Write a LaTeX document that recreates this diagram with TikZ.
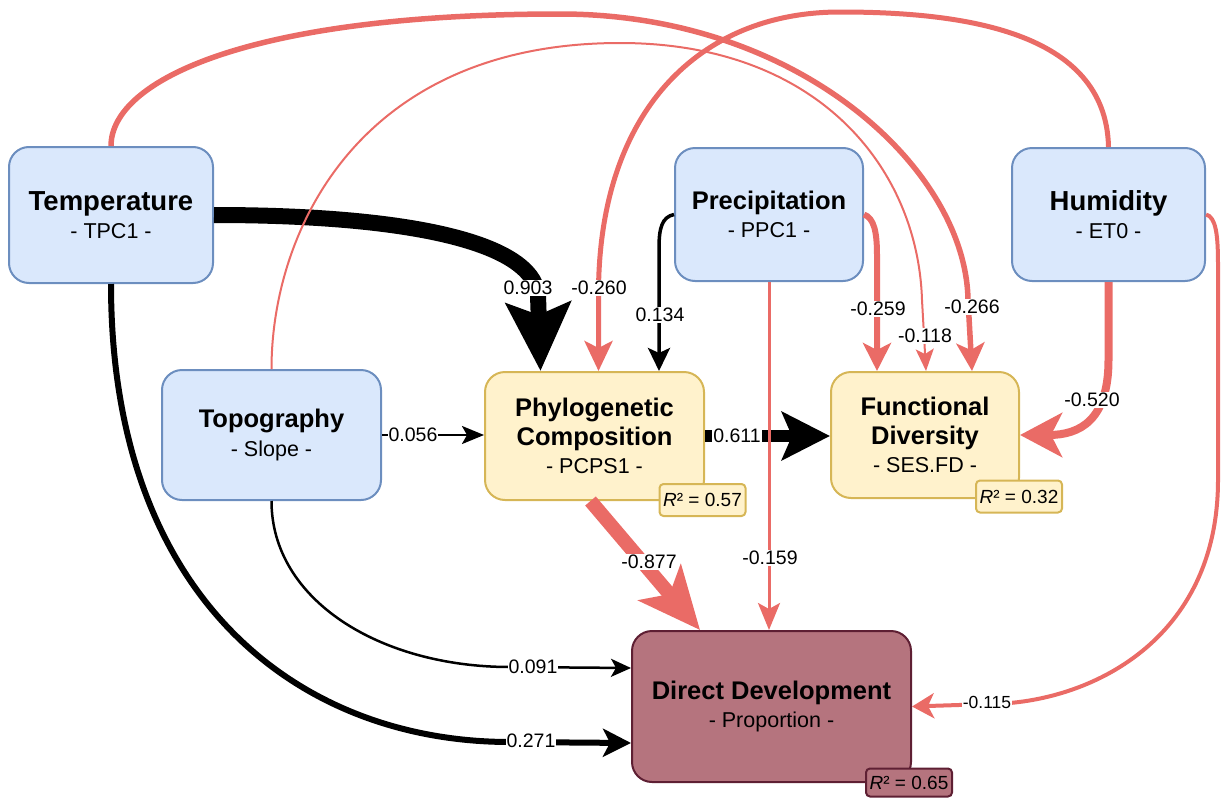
\documentclass[tikz,border=0pt]{standalone}
\usepackage{fontspec}
\setmainfont{Liberation Sans}
\usetikzlibrary{arrows.meta,calc}

\definecolor{bfill}{HTML}{DAE8FC}
\definecolor{bdraw}{HTML}{6C8EBF}
\definecolor{yfill}{HTML}{FFF2CC}
\definecolor{ydraw}{HTML}{D6B656}
\definecolor{dfill}{HTML}{B5747E}
\definecolor{ddraw}{HTML}{5E1F33}
\definecolor{negc}{HTML}{EA6B66}

\newcommand\ttl[1]{{\fontsize{25.5}{28.5}\selectfont\bfseries #1}}
\newcommand\bigttl[1]{{\fontsize{27.5}{28.5}\selectfont\bfseries #1}}

\tikzset{
  box/.style={rounded corners=20pt, line width=2pt, align=center, inner sep=0pt,
    font=\fontsize{21.5}{28.5}\selectfont},
  bluebox/.style={box, fill=bfill, draw=bdraw},
  yelbox/.style={box, fill=yfill, draw=ydraw},
  ddbox/.style={box, fill=dfill, draw=ddraw},
  r2box/.style={rounded corners=4pt, line width=2pt, inner sep=0pt,
    font=\fontsize{19}{19}\selectfont, minimum width=86pt},
  lbl/.style={fill=white, inner sep=1pt, text=black, font=\fontsize{19.5}{19.5}\selectfont},
  poslink/.style={draw=black},
  neglink/.style={draw=negc},
}

\begin{document}
\begin{tikzpicture}[x=1pt,y=-1pt]
\useasboundingbox (0,0) rectangle (1221,798);

% nodes
\node[bluebox, minimum width=204pt, minimum height=136pt] (temp) at (111,215)
  {\bigttl{Temperature}\\- TPC1 -};
\node[bluebox, minimum width=188pt, minimum height=133pt] (precip) at (769,214.5)
  {\ttl{Precipitation}\\- PPC1 -};
\node[bluebox, minimum width=193pt, minimum height=133pt] (humid) at (1108.5,214.5)
  {\bigttl{Humidity}\\- ET0 -};
\node[bluebox, minimum width=219pt, minimum height=130pt] (topo) at (271.5,435)
  {\ttl{Topography}\\- Slope -};
\node[yelbox, minimum width=219pt, minimum height=128pt] (phylo) at (594.5,436)
  {\ttl{Phylogenetic}\\\ttl{Composition}\\- PCPS1 -};
\node[yelbox, minimum width=188pt, minimum height=126pt] (fd) at (925,435)
  {\ttl{Functional}\\\ttl{Diversity}\\- SES.FD -};
\node[ddbox, minimum width=279pt, minimum height=151pt] (dd) at (771.5,706.5)
  {\ttl{Direct Development}\\- Proportion -};

% black (positive) links
\draw[poslink, line width=16pt, -{Stealth[length=68pt,width=64pt,inset=12pt]}]
  (temp.east) .. controls (400,215) and (532,240) .. (538,295)
  -- ([xshift=-54pt]phylo.north)
  node[lbl] at (528,288) {0.903};
\draw[poslink, line width=3.5pt, -{Stealth[length=23pt,width=22pt,inset=5pt]}]
  (precip.west) .. controls (662,217) and (659,228) .. (659,248)
  -- ([xshift=64.5pt]phylo.north)
  node[lbl] at (660,315) {0.134};
\draw[poslink, line width=2.5pt, -{Stealth[length=22pt,width=18pt,inset=5pt]}]
  (topo.east) -- (topo.east -| phylo.west)
  node[lbl] at (413,435) {0.056};
\draw[poslink, line width=12pt, -{Stealth[length=48pt,width=48pt,inset=10pt]}]
  (phylo.east) -- (phylo.east -| fd.west)
  node[lbl] at (737,436) {0.611};
\draw[poslink, line width=2.5pt, -{Stealth[length=20pt,width=18pt,inset=5pt]}]
  (topo.south) .. controls (271.5,600) and (380,667) .. (510,667)
  -- ([yshift=38.5pt]dd.west)
  node[lbl] at (533,667) {0.091};
\draw[poslink, line width=6pt, -{Stealth[length=28pt,width=28pt,inset=7pt]}]
  (temp.south) .. controls (111,600) and (300,742) .. (510,742)
  -- ([yshift=-36.5pt]dd.west)
  node[lbl] at (531,741) {0.271};

% red (negative) links
\draw[neglink, line width=5.5pt, -{Stealth[length=28pt,width=28pt,inset=7pt]}]
  (temp.north) .. controls (111,80) and (250,14) .. (560,14)
  .. controls (800,14) and (966,170) .. (968,300)
  -- ([xshift=47pt]fd.north)
  node[lbl] at (972,307) {-0.266};
\draw[neglink, line width=2pt, -{Stealth[length=22pt,width=18pt,inset=5pt]}]
  (topo.north) .. controls (271.5,230) and (360,43) .. (620,43)
  .. controls (820,43) and (918,170) .. (922,300)
  -- ([xshift=1pt]fd.north)
  node[lbl] at (925,336) {-0.118};
\draw[neglink, line width=5pt, -{Stealth[length=30pt,width=28pt,inset=7pt]}]
  (humid.north) .. controls (1106,30) and (960,12) .. (840,12)
  .. controls (700,12) and (600,110) .. (598.5,290)
  -- ([xshift=4pt]phylo.north)
  node[lbl] at (599,288) {-0.260};
\draw[neglink, line width=8pt, -{Stealth[length=42pt,width=44pt,inset=11pt]}]
  (humid.south) -- (1108.5,360) .. controls (1108.5,420) and (1080,435) .. (fd.east)
  node[lbl] at (1092,400) {-0.520};
\draw[neglink, line width=4pt, -{Stealth[length=22pt,width=25pt,inset=6pt]}]
  (humid.east) .. controls (1216,217) and (1218,235) .. (1218,265)
  -- (1218,480) .. controls (1218,640) and (1090,703) .. (990,704)
  -- (dd.east)
  node[lbl, font=\fontsize{17.5}{17.5}\selectfont] at (987,702) {-0.115};
\draw[neglink, line width=6pt, -{Stealth[length=28pt,width=28pt,inset=7pt]}]
  (precip.east) .. controls (874,218) and (877,232) .. (877,255)
  -- ([xshift=-48pt]fd.north)
  node[lbl] at (878,309) {-0.259};
\draw[neglink, line width=3pt, -{Stealth[length=27pt,width=22pt,inset=6pt]}]
  (precip.south) -- (precip.south |- dd.north)
  node[lbl] at (770,558) {-0.159};
\draw[neglink, line width=14pt, -{Stealth[length=62pt,width=55pt,inset=15pt]}]
  ([xshift=-4pt]phylo.south) -- ([xshift=-71.5pt]dd.north)
  node[lbl] at (649,562) {-0.877};

% R squared boxes
\node[r2box, fill=yfill, draw=ydraw, minimum height=32pt] (r2a) at (702.5,500)
  {\textit{R}² = 0.57};
\node[r2box, fill=yfill, draw=ydraw, minimum height=32pt] (r2b) at (1019,496.5)
  {\textit{R}² = 0.32};
\node[r2box, fill=dfill, draw=ddraw, minimum height=28pt] (r2c) at (909,782.5)
  {\textit{R}² = 0.65};
\end{tikzpicture}
\end{document}
